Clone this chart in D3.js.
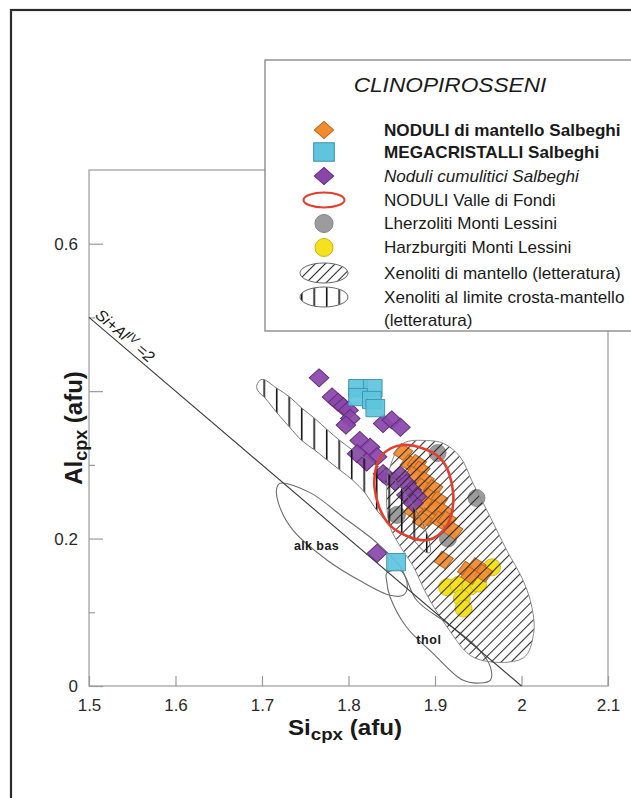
<!DOCTYPE html>
<html>
<head>
<meta charset="utf-8">
<script src="https://cdn.jsdelivr.net/npm/d3@7"></script>
<style>
    body { margin: 0; background: #fff; }
    svg text { font-family: "Liberation Sans", Arial, sans-serif; }
</style>
</head>
<body>
<svg id="chart" width="631" height="798"></svg>
<script>
const X_TICKS = [1.5, 1.6, 1.7, 1.8, 1.9, 2.0, 2.1];
const Y_TICKS_LABELLED = [0, 0.2, 0.6];
const Y_TICKS_MAJOR = [0.4];
const Y_TICKS_MINOR = [0.1, 0.3, 0.5];

// samples (Si, Al) in afu
const noduliMantello = [
    [1.863, 0.317], [1.871, 0.302], [1.879, 0.302], [1.883, 0.293], [1.875, 0.286],
    [1.888, 0.279], [1.885, 0.270], [1.898, 0.268], [1.894, 0.256], [1.904, 0.252],
    [1.888, 0.248], [1.900, 0.241], [1.910, 0.236], [1.875, 0.238], [1.890, 0.229],
    [1.885, 0.225], [1.906, 0.225], [1.914, 0.225], [1.921, 0.211], [1.910, 0.171],
    [1.937, 0.157], [1.948, 0.162], [1.956, 0.153], [1.941, 0.150]
];
const megacristalli = [
    [1.811, 0.404], [1.828, 0.404], [1.811, 0.392], [1.827, 0.388], [1.831, 0.377],
    [1.855, 0.168]
];
const noduliCumulitici = [
    [1.766, 0.418], [1.781, 0.392], [1.788, 0.385], [1.794, 0.379], [1.800, 0.374],
    [1.802, 0.363], [1.797, 0.354], [1.840, 0.356], [1.850, 0.361], [1.860, 0.351],
    [1.813, 0.333], [1.825, 0.324], [1.833, 0.311], [1.810, 0.315], [1.821, 0.304],
    [1.840, 0.288], [1.844, 0.284], [1.854, 0.277], [1.860, 0.286], [1.867, 0.275],
    [1.873, 0.266], [1.867, 0.259], [1.879, 0.257], [1.875, 0.248], [1.833, 0.180]
];
const lherzoliti = [[1.903, 0.316], [1.948, 0.255], [1.856, 0.232], [1.915, 0.200]];
const harzburgiti = [
    [1.914, 0.134], [1.927, 0.137], [1.941, 0.135], [1.950, 0.139], [1.966, 0.161],
    [1.931, 0.119], [1.933, 0.105]
];

// field outlines
const valleDiFondi = [
    [1.863, 0.327], [1.906, 0.309], [1.921, 0.262], [1.914, 0.218],
    [1.891, 0.198], [1.848, 0.218], [1.830, 0.270], [1.838, 0.312]
];
const xenolitiMantello = [
    [1.863, 0.329], [1.848, 0.297], [1.844, 0.252], [1.848, 0.216], [1.860, 0.189],
    [1.875, 0.162], [1.890, 0.125], [1.914, 0.080], [1.946, 0.038], [2.002, 0.038],
    [2.014, 0.071], [2.012, 0.107], [2.002, 0.143], [1.983, 0.184], [1.964, 0.229],
    [1.944, 0.275], [1.929, 0.311], [1.910, 0.329], [1.890, 0.333]
];
const xenolitiCrosta = [
    [1.694, 0.408], [1.700, 0.416], [1.717, 0.404], [1.732, 0.392], [1.746, 0.377],
    [1.761, 0.363], [1.776, 0.347], [1.790, 0.333], [1.805, 0.320], [1.819, 0.309],
    [1.834, 0.298], [1.848, 0.287], [1.862, 0.267], [1.873, 0.248], [1.885, 0.222],
    [1.893, 0.198], [1.894, 0.181], [1.887, 0.183], [1.875, 0.198], [1.860, 0.207],
    [1.846, 0.221], [1.833, 0.238], [1.819, 0.262], [1.805, 0.279], [1.790, 0.293],
    [1.776, 0.306], [1.761, 0.320], [1.746, 0.333], [1.732, 0.351], [1.717, 0.371],
    [1.704, 0.390], [1.695, 0.401]
];
const alkBas = [
    [1.721, 0.275], [1.756, 0.262], [1.794, 0.229], [1.833, 0.194], [1.860, 0.161],
    [1.868, 0.134], [1.863, 0.123], [1.848, 0.123], [1.813, 0.143], [1.775, 0.171],
    [1.736, 0.211], [1.719, 0.248], [1.717, 0.268]
];
const thol = [
    [1.844, 0.153], [1.860, 0.157], [1.879, 0.116], [1.914, 0.085], [1.948, 0.053],
    [1.964, 0.026], [1.964, 0.008], [1.952, 0.004], [1.932, 0.008], [1.898, 0.044],
    [1.867, 0.080], [1.848, 0.121], [1.844, 0.143]
];
const siAlLine = [[1.5, 0.5], [2.0, 0]];

const legendLabels = [
    "NODULI di mantello Salbeghi",
    "MEGACRISTALLI Salbeghi",
    "Noduli cumulitici Salbeghi",
    "NODULI Valle di Fondi",
    "Lherzoliti Monti Lessini",
    "Harzburgiti Monti Lessini",
    "Xenoliti di mantello (letteratura)",
    "Xenoliti al limite crosta-mantello"
];

const COLORS = {
    orange: ["#f28a2e", "#b9661f"],
    cyan: ["#5fc5df", "#3c93ab"],
    purple: ["#8b46aa", "#5f2c78"],
    gray: ["#9c9c9c", "#808080"],
    yellow: ["#f6e21c", "#c9b414"],
    red: "#e2402f"
};

const svg = d3.select("#chart");

const x = d3.scaleLinear().domain([1.5, 2.1]).range([89, 608]);
const y = d3.scaleLinear().domain([0, 0.7]).range([686, 170]);

// page frame
svg.append("rect")
    .attr("x", 11).attr("y", 10)
    .attr("width", 700).attr("height", 900)
    .attr("fill", "none")
    .attr("stroke", "#2b2b2b")
    .attr("stroke-width", 2.2);

const defs = svg.append("defs");
defs.append("pattern")
    .attr("id", "diag")
    .attr("patternUnits", "userSpaceOnUse")
    .attr("width", 7).attr("height", 7)
    .attr("patternTransform", "rotate(45)")
    .append("line")
        .attr("x1", 3.5).attr("x2", 3.5).attr("y1", 0).attr("y2", 7)
        .attr("stroke", "#2f2f2f").attr("stroke-width", 1.1);
defs.append("pattern")
    .attr("id", "vert")
    .attr("patternUnits", "userSpaceOnUse")
    .attr("width", 12.5).attr("height", 12.5)
    .append("line")
        .attr("x1", 1.7).attr("x2", 1.7).attr("y1", 0).attr("y2", 12.5)
        .attr("stroke", "#111").attr("stroke-width", 1.6);

// plot frame
svg.append("rect")
    .attr("x", x(1.5)).attr("y", y(0.7))
    .attr("width", x(2.1) - x(1.5)).attr("height", y(0) - y(0.7))
    .attr("fill", "none")
    .attr("stroke", "#a3a3a3")
    .attr("stroke-width", 1.3);

let xAxis = d3.axisBottom(x)
    .tickValues(X_TICKS)
    .tickSize(-10)
    .tickPadding(13)
    .tickFormat(d3.format(""));
svg.append("g").classed("x-axis", true)
    .attr("transform", `translate(0, ${y(0)})`)
    .call(xAxis);

let yAxis = d3.axisLeft(y)
    .tickValues(Y_TICKS_LABELLED)
    .tickSize(-14)
    .tickPadding(11)
    .tickFormat(d3.format(""));
svg.append("g").classed("y-axis", true)
    .attr("transform", `translate(${x(1.5)}, 0)`)
    .call(yAxis);

// 0.4 sits under the axis title, so only its tick is drawn
svg.append("g").classed("y-axis-major", true)
    .attr("transform", `translate(${x(1.5)}, 0)`)
    .call(d3.axisLeft(y).tickValues(Y_TICKS_MAJOR).tickSize(-14).tickFormat(""));

svg.append("g").classed("y-axis-minor", true)
    .attr("transform", `translate(${x(1.5)}, 0)`)
    .call(d3.axisLeft(y).tickValues(Y_TICKS_MINOR).tickSize(-6).tickFormat(""));

svg.selectAll(".x-axis, .y-axis, .y-axis-major, .y-axis-minor").select(".domain").remove();
svg.selectAll(".tick line").attr("stroke", "#9a9a9a").attr("stroke-width", 1.2);
svg.selectAll(".tick text")
    .attr("font-size", "17px")
    .attr("fill", "#2a2a2a")
    .style("font-family", "'Liberation Sans', Arial, sans-serif");

// axis titles
let xTitle = svg.append("text")
    .attr("transform", "translate(345, 735) scale(1.1, 1)")
    .attr("text-anchor", "middle")
    .attr("font-weight", "bold")
    .attr("font-size", "22px")
    .attr("fill", "#1a1a1a");
xTitle.append("tspan").text("Si");
xTitle.append("tspan").attr("font-size", "17px").attr("dy", 5).text("cpx");
xTitle.append("tspan").attr("dy", -5).text(" (afu)");

let yTitle = svg.append("text")
    .attr("transform", "translate(82, 428) rotate(-90)")
    .attr("text-anchor", "middle")
    .attr("font-weight", "bold")
    .attr("font-size", "24px")
    .attr("fill", "#1a1a1a");
yTitle.append("tspan").text("Al");
yTitle.append("tspan").attr("font-size", "18px").attr("dy", 5).text("cpx");
yTitle.append("tspan").attr("dy", -5).text(" (afu)");

const outline = d3.line()
    .x(d => x(d[0]))
    .y(d => y(d[1]))
    .curve(d3.curveCatmullRomClosed.alpha(0.5));

// alk bas / thol fields
svg.selectAll(".field")
    .data([alkBas, thol])
    .enter()
    .append("path")
        .classed("field", true)
        .attr("d", outline)
        .attr("fill", "none")
        .attr("stroke", "#6e6e6e")
        .attr("stroke-width", 1.1);

// markers
const squarePath = d3.symbol().type(d3.symbolSquare);

function drawMarkers(data, size, angle, colors, cls) {
    svg.selectAll("." + cls)
        .data(data)
        .enter()
        .append("path")
            .classed(cls, true)
            .attr("d", squarePath.size(size)())
            .attr("transform", d => `translate(${x(d[0])}, ${y(d[1])}) scale(1.08, 1) rotate(${angle})`)
            .attr("fill", colors[0])
            .attr("fill-opacity", 0.93)
            .attr("stroke", colors[1])
            .attr("stroke-width", 0.9);
}

function drawCircles(data, radius, colors, cls) {
    svg.selectAll("." + cls)
        .data(data)
        .enter()
        .append("circle")
            .classed(cls, true)
            .attr("cx", d => x(d[0]))
            .attr("cy", d => y(d[1]))
            .attr("r", radius)
            .attr("fill", colors[0])
            .attr("stroke", colors[1])
            .attr("stroke-width", 0.8);
}

drawCircles(lherzoliti, 8.5, COLORS.gray, "lherz");
drawCircles(harzburgiti, 8.5, COLORS.yellow, "harz");
drawMarkers(noduliMantello, 165, 35, COLORS.orange, "orange");
drawMarkers(noduliCumulitici, 165, 45, COLORS.purple, "purple");
drawMarkers(megacristalli, 300, 0, COLORS.cyan, "cyan");

// hatched literature fields (drawn over the markers, as in the original)
svg.append("path")
    .datum(xenolitiMantello)
    .attr("d", outline)
    .attr("fill", "url(#diag)")
    .attr("stroke", "#8a8a8a")
    .attr("stroke-width", 1);

svg.append("path")
    .datum(xenolitiCrosta)
    .attr("d", outline)
    .attr("fill", "url(#vert)")
    .attr("stroke", "#777")
    .attr("stroke-width", 1);

// Si + Al(IV) = 2 line
svg.append("line")
    .attr("x1", x(siAlLine[0][0])).attr("y1", y(siAlLine[0][1]))
    .attr("x2", x(siAlLine[1][0])).attr("y2", y(siAlLine[1][1]))
    .attr("stroke", "#3a3a3a")
    .attr("stroke-width", 1.1);

const lineAngle = Math.atan2(y(0) - y(0.5), x(2.0) - x(1.5)) * 180 / Math.PI;
let siAlLabel = svg.append("text")
    .attr("transform", `translate(${x(1.503)}, ${y(0.497)}) rotate(${lineAngle})`)
    .attr("y", -4)
    .attr("font-size", "16px")
    .attr("font-style", "italic")
    .attr("fill", "#1a1a1a");
siAlLabel.append("tspan").text("Si+Al");
siAlLabel.append("tspan").attr("font-size", "12px").attr("dy", -5).text("IV");
siAlLabel.append("tspan").attr("dy", 5).text(" =2");

// Valle di Fondi ellipse
svg.append("path")
    .datum(valleDiFondi)
    .attr("d", outline)
    .attr("fill", "none")
    .attr("stroke", COLORS.red)
    .attr("stroke-width", 2.6);

// field names
svg.append("text")
    .attr("x", x(1.763)).attr("y", y(0.191))
    .attr("dy", "0.35em")
    .attr("text-anchor", "middle")
    .attr("font-size", "12.5px")
    .attr("font-weight", "bold")
    .attr("letter-spacing", "0.4px")
    .attr("fill", "#1a1a1a")
    .text("alk bas");
svg.append("text")
    .attr("x", x(1.893)).attr("y", y(0.063))
    .attr("dy", "0.35em")
    .attr("text-anchor", "middle")
    .attr("font-size", "12.5px")
    .attr("font-weight", "bold")
    .attr("letter-spacing", "0.6px")
    .attr("fill", "#1a1a1a")
    .text("thol");

// legend
const legend = svg.append("g").classed("legend", true);
legend.append("rect")
    .attr("x", 265).attr("y", 60)
    .attr("width", 400).attr("height", 271)
    .attr("fill", "#fff")
    .attr("stroke", "#8c8c8c")
    .attr("stroke-width", 1.4);

legend.append("text")
    .attr("transform", "translate(450, 92) scale(1.08, 1)")
    .attr("text-anchor", "middle")
    .attr("font-size", "21px")
    .attr("font-style", "italic")
    .attr("fill", "#1a1a1a")
    .text("CLINOPIROSSENI");

const rowY = [130, 152, 176, 200, 223.5, 247.5, 273, 297];
const rowWeight = ["bold", "bold", "normal", "normal", "normal", "normal", "normal", "normal"];
const rowStyle = ["normal", "normal", "italic", "normal", "normal", "normal", "normal", "normal"];
const symX = 324;

legend.selectAll(".legend-label")
    .data(legendLabels)
    .enter()
    .append("text")
        .classed("legend-label", true)
        .attr("transform", (d, i) => `translate(384, ${rowY[i]}) scale(1.07, 1)`)
        .attr("dy", "0.36em")
        .attr("font-size", "16px")
        .attr("font-weight", (d, i) => rowWeight[i])
        .attr("font-style", (d, i) => rowStyle[i])
        .attr("fill", "#1a1a1a")
        .text(d => d);
legend.append("text")
    .attr("transform", "translate(384, 320) scale(1.07, 1)")
    .attr("dy", "0.36em")
    .attr("font-size", "16px")
    .attr("fill", "#1a1a1a")
    .text("(letteratura)");

function legendSquare(row, size, angle, colors) {
    legend.append("path")
        .attr("d", squarePath.size(size)())
        .attr("transform", `translate(${symX}, ${rowY[row]}) scale(1.12, 1) rotate(${angle})`)
        .attr("fill", colors[0])
        .attr("stroke", colors[1])
        .attr("stroke-width", 0.9);
}
legendSquare(0, 150, 45, COLORS.orange);
legendSquare(1, 340, 0, COLORS.cyan);
legendSquare(2, 150, 45, COLORS.purple);

legend.append("ellipse")
    .attr("cx", symX).attr("cy", rowY[3])
    .attr("rx", 20.5).attr("ry", 7.5)
    .attr("fill", "none")
    .attr("stroke", COLORS.red)
    .attr("stroke-width", 2);
legend.append("circle")
    .attr("cx", symX).attr("cy", rowY[4]).attr("r", 9)
    .attr("fill", COLORS.gray[0]).attr("stroke", COLORS.gray[1]);
legend.append("circle")
    .attr("cx", symX).attr("cy", rowY[5]).attr("r", 9)
    .attr("fill", COLORS.yellow[0]).attr("stroke", COLORS.yellow[1]);
legend.append("ellipse")
    .attr("cx", symX).attr("cy", rowY[6])
    .attr("rx", 24).attr("ry", 10)
    .attr("fill", "url(#diag)")
    .attr("stroke", "#666");
legend.append("ellipse")
    .attr("cx", symX).attr("cy", rowY[7])
    .attr("rx", 24).attr("ry", 10)
    .attr("fill", "url(#vert)")
    .attr("stroke", "#666");
</script>
</body>
</html>
